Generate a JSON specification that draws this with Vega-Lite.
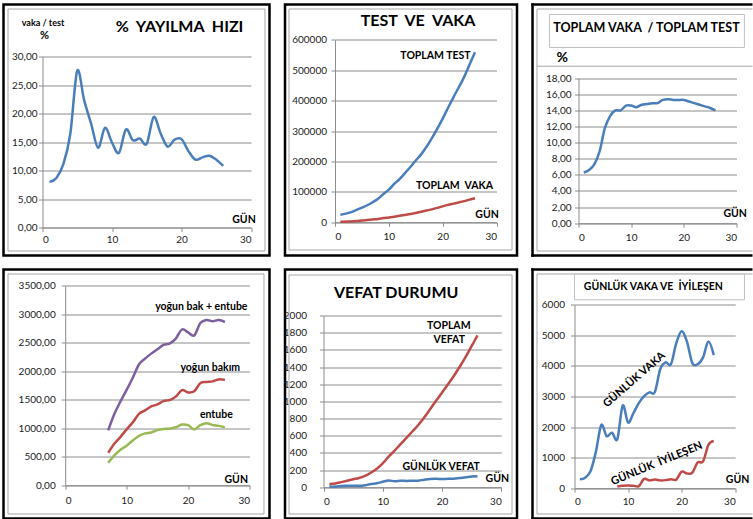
{
"$schema":"https://vega.github.io/schema/vega-lite/v6.json",
"background":"white",
"padding":{"left":1.5,"top":1.5,"right":0,"bottom":0},
"columns":3,
"align":"each",
"spacing":{"row":8,"column":10.5},
"resolve":{"scale":{"color":"independent"}},
"datasets":{
"yay":[{"day":1,"v":8.0},{"day":2,"v":8.7},{"day":3,"v":11.1},{"day":4,"v":16.4},{"day":5,"v":27.5},{"day":6,"v":22.3},{"day":7,"v":18.2},{"day":8,"v":14.0},{"day":9,"v":17.5},{"day":10,"v":14.9},{"day":11,"v":13.1},{"day":12,"v":17.2},{"day":13,"v":15.3},{"day":14,"v":15.6},{"day":15,"v":14.7},{"day":16,"v":19.4},{"day":17,"v":16.5},{"day":18,"v":14.2},{"day":19,"v":15.4},{"day":20,"v":15.5},{"day":21,"v":13.4},{"day":22,"v":11.9},{"day":23,"v":12.3},{"day":24,"v":12.6},{"day":25,"v":11.9},{"day":26,"v":10.8}],
"tv":[{"day":1,"s":"test","v":24300},{"day":2,"s":"test","v":28250},{"day":3,"s":"test","v":33290},{"day":4,"s":"test","v":40570},{"day":5,"s":"test","v":48100},{"day":6,"s":"test","v":55740},{"day":7,"s":"test","v":65720},{"day":8,"s":"test","v":77260},{"day":9,"s":"test","v":92680},{"day":10,"s":"test","v":107070},{"day":11,"s":"test","v":125830},{"day":12,"s":"test","v":141990},{"day":13,"s":"test","v":161650},{"day":14,"s":"test","v":181720},{"day":15,"s":"test","v":203120},{"day":16,"s":"test","v":223140},{"day":17,"s":"test","v":248040},{"day":18,"s":"test","v":276620},{"day":19,"s":"test","v":307480},{"day":20,"s":"test","v":340650},{"day":21,"s":"test","v":376370},{"day":22,"s":"test","v":410830},{"day":23,"s":"test","v":443900},{"day":24,"s":"test","v":478000},{"day":25,"s":"test","v":518400},{"day":26,"s":"test","v":559400},
{"day":1,"s":"vaka","v":1529},{"day":2,"s":"vaka","v":1872},{"day":3,"s":"vaka","v":2433},{"day":4,"s":"vaka","v":3629},{"day":5,"s":"vaka","v":5698},{"day":6,"s":"vaka","v":7402},{"day":7,"s":"vaka","v":9217},{"day":8,"s":"vaka","v":10827},{"day":9,"s":"vaka","v":13531},{"day":10,"s":"vaka","v":15679},{"day":11,"s":"vaka","v":18135},{"day":12,"s":"vaka","v":20921},{"day":13,"s":"vaka","v":23934},{"day":14,"s":"vaka","v":27069},{"day":15,"s":"vaka","v":30217},{"day":16,"s":"vaka","v":34109},{"day":17,"s":"vaka","v":38226},{"day":18,"s":"vaka","v":42282},{"day":19,"s":"vaka","v":47029},{"day":20,"s":"vaka","v":52167},{"day":21,"s":"vaka","v":56956},{"day":22,"s":"vaka","v":61049},{"day":23,"s":"vaka","v":65111},{"day":24,"s":"vaka","v":69392},{"day":25,"s":"vaka","v":74193},{"day":26,"s":"vaka","v":78546}],
"ratio":[{"day":1,"v":6.3},{"day":2,"v":6.6},{"day":3,"v":7.3},{"day":4,"v":8.9},{"day":5,"v":11.8},{"day":6,"v":13.3},{"day":7,"v":14.0},{"day":8,"v":14.0},{"day":9,"v":14.6},{"day":10,"v":14.6},{"day":11,"v":14.4},{"day":12,"v":14.7},{"day":13,"v":14.8},{"day":14,"v":14.9},{"day":15,"v":14.9},{"day":16,"v":15.3},{"day":17,"v":15.4},{"day":18,"v":15.3},{"day":19,"v":15.3},{"day":20,"v":15.3},{"day":21,"v":15.1},{"day":22,"v":14.9},{"day":23,"v":14.7},{"day":24,"v":14.5},{"day":25,"v":14.3},{"day":26,"v":14.0}],
"icu":[{"day":7,"s":"sum","v":962},{"day":8,"s":"sum","v":1248},{"day":9,"s":"sum","v":1469},{"day":10,"s":"sum","v":1671},{"day":11,"s":"sum","v":1884},{"day":12,"s":"sum","v":2116},{"day":13,"s":"sum","v":2219},{"day":14,"s":"sum","v":2306},{"day":15,"s":"sum","v":2381},{"day":16,"s":"sum","v":2459},{"day":17,"s":"sum","v":2483},{"day":18,"s":"sum","v":2569},{"day":19,"s":"sum","v":2729},{"day":20,"s":"sum","v":2678},{"day":21,"s":"sum","v":2623},{"day":22,"s":"sum","v":2841},{"day":23,"s":"sum","v":2896},{"day":24,"s":"sum","v":2874},{"day":25,"s":"sum","v":2894},{"day":26,"s":"sum","v":2860},
{"day":7,"s":"icu","v":568},{"day":8,"s":"icu","v":725},{"day":9,"s":"icu","v":847},{"day":10,"s":"icu","v":979},{"day":11,"s":"icu","v":1101},{"day":12,"s":"icu","v":1251},{"day":13,"s":"icu","v":1311},{"day":14,"s":"icu","v":1381},{"day":15,"s":"icu","v":1415},{"day":16,"s":"icu","v":1474},{"day":17,"s":"icu","v":1492},{"day":18,"s":"icu","v":1552},{"day":19,"s":"icu","v":1667},{"day":20,"s":"icu","v":1626},{"day":21,"s":"icu","v":1645},{"day":22,"s":"icu","v":1789},{"day":23,"s":"icu","v":1809},{"day":24,"s":"icu","v":1820},{"day":25,"s":"icu","v":1854},{"day":26,"s":"icu","v":1846},
{"day":7,"s":"int","v":394},{"day":8,"s":"int","v":523},{"day":9,"s":"int","v":622},{"day":10,"s":"int","v":692},{"day":11,"s":"int","v":783},{"day":12,"s":"int","v":865},{"day":13,"s":"int","v":908},{"day":14,"s":"int","v":925},{"day":15,"s":"int","v":966},{"day":16,"s":"int","v":985},{"day":17,"s":"int","v":991},{"day":18,"s":"int","v":1017},{"day":19,"s":"int","v":1062},{"day":20,"s":"int","v":1052},{"day":21,"s":"int","v":978},{"day":22,"s":"int","v":1052},{"day":23,"s":"int","v":1087},{"day":24,"s":"int","v":1054},{"day":25,"s":"int","v":1040},{"day":26,"s":"int","v":1014}],
"death":[{"day":1,"s":"cum","v":37},{"day":2,"s":"cum","v":44},{"day":3,"s":"cum","v":59},{"day":4,"s":"cum","v":75},{"day":5,"s":"cum","v":92},{"day":6,"s":"cum","v":108},{"day":7,"s":"cum","v":131},{"day":8,"s":"cum","v":168},{"day":9,"s":"cum","v":214},{"day":10,"s":"cum","v":277},{"day":11,"s":"cum","v":356},{"day":12,"s":"cum","v":425},{"day":13,"s":"cum","v":501},{"day":14,"s":"cum","v":574},{"day":15,"s":"cum","v":649},{"day":16,"s":"cum","v":725},{"day":17,"s":"cum","v":812},{"day":18,"s":"cum","v":908},{"day":19,"s":"cum","v":1006},{"day":20,"s":"cum","v":1101},{"day":21,"s":"cum","v":1198},{"day":22,"s":"cum","v":1296},{"day":23,"s":"cum","v":1403},{"day":24,"s":"cum","v":1518},{"day":25,"s":"cum","v":1643},{"day":26,"s":"cum","v":1769},
{"day":1,"s":"daily","v":7},{"day":2,"s":"daily","v":7},{"day":3,"s":"daily","v":15},{"day":4,"s":"daily","v":16},{"day":5,"s":"daily","v":17},{"day":6,"s":"daily","v":16},{"day":7,"s":"daily","v":23},{"day":8,"s":"daily","v":37},{"day":9,"s":"daily","v":46},{"day":10,"s":"daily","v":63},{"day":11,"s":"daily","v":79},{"day":12,"s":"daily","v":69},{"day":13,"s":"daily","v":76},{"day":14,"s":"daily","v":73},{"day":15,"s":"daily","v":75},{"day":16,"s":"daily","v":76},{"day":17,"s":"daily","v":87},{"day":18,"s":"daily","v":96},{"day":19,"s":"daily","v":98},{"day":20,"s":"daily","v":95},{"day":21,"s":"daily","v":97},{"day":22,"s":"daily","v":98},{"day":23,"s":"daily","v":107},{"day":24,"s":"daily","v":115},{"day":25,"s":"daily","v":125},{"day":26,"s":"daily","v":126}],
"daily":[{"day":1,"s":"vaka","v":293},{"day":2,"s":"vaka","v":343},{"day":3,"s":"vaka","v":561},{"day":4,"s":"vaka","v":1196},{"day":5,"s":"vaka","v":2069},{"day":6,"s":"vaka","v":1704},{"day":7,"s":"vaka","v":1815},{"day":8,"s":"vaka","v":1610},{"day":9,"s":"vaka","v":2704},{"day":10,"s":"vaka","v":2148},{"day":11,"s":"vaka","v":2456},{"day":12,"s":"vaka","v":2786},{"day":13,"s":"vaka","v":3013},{"day":14,"s":"vaka","v":3135},{"day":15,"s":"vaka","v":3148},{"day":16,"s":"vaka","v":3892},{"day":17,"s":"vaka","v":4117},{"day":18,"s":"vaka","v":4056},{"day":19,"s":"vaka","v":4747},{"day":20,"s":"vaka","v":5138},{"day":21,"s":"vaka","v":4789},{"day":22,"s":"vaka","v":4093},{"day":23,"s":"vaka","v":4062},{"day":24,"s":"vaka","v":4281},{"day":25,"s":"vaka","v":4801},{"day":26,"s":"vaka","v":4353},
{"day":8,"s":"iyi","v":57},{"day":9,"s":"iyi","v":81},{"day":10,"s":"iyi","v":90},{"day":11,"s":"iyi","v":82},{"day":12,"s":"iyi","v":69},{"day":13,"s":"iyi","v":302},{"day":14,"s":"iyi","v":256},{"day":15,"s":"iyi","v":284},{"day":16,"s":"iyi","v":256},{"day":17,"s":"iyi","v":264},{"day":18,"s":"iyi","v":296},{"day":19,"s":"iyi","v":281},{"day":20,"s":"iyi","v":542},{"day":21,"s":"iyi","v":481},{"day":22,"s":"iyi","v":511},{"day":23,"s":"iyi","v":842},{"day":24,"s":"iyi","v":875},{"day":25,"s":"iyi","v":1415},{"day":26,"s":"iyi","v":1542}]
},
"concat":[
{"width":266,"height":251,"view":{"stroke":"#000","strokeWidth":2.5},"layer":[
{"data":{"values":[{}]},"mark":{"type":"rect","filled":false,"stroke":"#a6a6a6","strokeWidth":1},"encoding":{"x":{"datum":-4.96,"title":null},"x2":{"datum":32.01},"y":{"datum":38.33,"title":null},"y2":{"datum":-4.12}}},
{"data":{"name":"yay"},"mark":{"type":"line","color":"#4a7ebb"},"encoding":{"x":{"field":"day","type":"quantitative","title":null,"scale":{"domain":[0,30],"range":[39,247.5],"nice":false},"axis":{"values":[0,10,20,30],"tickCount":20,"offset":-28,"labelPadding":3}},"y":{"field":"v","type":"quantitative","title":null,"scale":{"domain":[0,30],"range":[223,52],"nice":false},"axis":{"values":[0,5,10,15,20,25,30],"tickCount":20,"offset":-39,"labelPadding":1.5,"labelExpr":"replace(format(datum.value,'.2f'),'.',',')"}}}},
{"data":{"values":[{}]},"mark":{"type":"text","text":"vaka / test","fontSize":9},"encoding":{"x":{"datum":0.07,"title":null},"y":{"datum":35.96,"title":null}}},
{"data":{"values":[{}]},"mark":{"type":"text","text":"%","fontSize":11},"encoding":{"x":{"datum":0.29,"title":null},"y":{"datum":33.51,"title":null}}},
{"data":{"values":[{}]},"mark":{"type":"text","text":"%\u00a0 YAYILMA\u00a0 HIZI","fontSize":16},"encoding":{"x":{"datum":19.71,"title":null},"y":{"datum":35.26,"title":null}}},
{"data":{"values":[{}]},"mark":{"type":"text","text":"GÜN","fontSize":10.5},"encoding":{"x":{"datum":28.99,"title":null},"y":{"datum":1.4,"title":null}}}
]},
{"width":232,"height":251,"view":{"stroke":"#000","strokeWidth":2.5},"layer":[
{"data":{"values":[{}]},"mark":{"type":"rect","filled":false,"stroke":"#a6a6a6","strokeWidth":1},"encoding":{"x":{"datum":-8.55,"title":null},"x2":{"datum":32.88},"y":{"datum":701300,"title":null},"y2":{"datum":-91450}}},
{"data":{"name":"tv"},"mark":{"type":"line"},"encoding":{"x":{"field":"day","type":"quantitative","title":null,"scale":{"domain":[0,30],"range":[50,211.5],"nice":false},"axis":{"values":[0,10,20,30],"tickCount":20,"offset":-33.3,"labelPadding":5.5}},"y":{"field":"v","type":"quantitative","title":null,"scale":{"domain":[0,600000],"range":[217.7,35.3],"nice":false},"axis":{"values":[0,100000,200000,300000,400000,500000,600000],"tickCount":20,"offset":-50,"format":"d","labelPadding":4.5}},"color":{"field":"s","type":"nominal","legend":null,"scale":{"domain":["test","vaka"],"range":["#4a7ebb","#be4b48"]}}}},
{"data":{"values":[{}]},"mark":{"type":"text","text":"TEST\u00a0 VE\u00a0 VAKA","fontSize":16},"encoding":{"x":{"datum":15.42,"title":null},"y":{"datum":661190,"title":null}}},
{"data":{"values":[{}]},"mark":{"type":"text","text":"TOPLAM TEST","fontSize":10.5},"encoding":{"x":{"datum":18.67,"title":null},"y":{"datum":548350,"title":null}}},
{"data":{"values":[{}]},"mark":{"type":"text","text":"TOPLAM\u00a0 VAKA","fontSize":10.5},"encoding":{"x":{"datum":22.2,"title":null},"y":{"datum":118420,"title":null}}},
{"data":{"values":[{}]},"mark":{"type":"text","text":"GÜN","fontSize":10.5},"encoding":{"x":{"datum":28.24,"title":null},"y":{"datum":24340,"title":null}}}
]},
{"width":220,"height":251,"layer":[
{"data":{"values":[{}]},"mark":{"type":"rule","stroke":"#a6a6a6","strokeWidth":1},"encoding":{"x":{"datum":-7.88,"title":null},"x2":{"datum":33.04},"y":{"datum":26.59,"title":null}}},
{"data":{"values":[{}]},"mark":{"type":"rule","stroke":"#a6a6a6","strokeWidth":1},"encoding":{"x":{"datum":-7.88,"title":null},"x2":{"datum":33.04},"y":{"datum":-3.45,"title":null}}},
{"data":{"values":[{}]},"mark":{"type":"rule","stroke":"#a6a6a6","strokeWidth":1},"encoding":{"x":{"datum":-7.88,"title":null},"y":{"datum":26.59,"title":null},"y2":{"datum":-3.45}}},
{"data":{"values":[{}]},"mark":{"type":"rule","stroke":"#a6a6a6","strokeWidth":1},"encoding":{"x":{"datum":-7.88,"title":null},"x2":{"datum":33.04},"y":{"datum":19.49,"title":null}}},
{"data":{"values":[{}]},"mark":{"type":"rect","fill":"white","stroke":"#c0c0c0","strokeWidth":1},"encoding":{"x":{"datum":-5.5,"title":null},"x2":{"datum":31.5},"y":{"datum":25.91,"title":null},"y2":{"datum":21.81}}},
{"data":{"values":[{}]},"mark":{"type":"rule","stroke":"#000","strokeWidth":2.5},"encoding":{"x":{"datum":-8.97,"title":null},"x2":{"datum":33.04},"y":{"datum":27.15,"title":null}}},
{"data":{"values":[{}]},"mark":{"type":"rule","stroke":"#000","strokeWidth":2.5},"encoding":{"x":{"datum":-8.97,"title":null},"x2":{"datum":33.04},"y":{"datum":-4.01,"title":null}}},
{"data":{"values":[{}]},"mark":{"type":"rule","stroke":"#000","strokeWidth":2.5},"encoding":{"x":{"datum":-8.73,"title":null},"y":{"datum":27.3,"title":null},"y2":{"datum":-4.17}}},
{"data":{"name":"ratio"},"mark":{"type":"line","color":"#4a7ebb"},"encoding":{"x":{"field":"day","type":"quantitative","title":null,"scale":{"domain":[0,30],"range":[46,204],"nice":false},"axis":{"values":[0,10,20,30],"tickCount":20,"offset":-32.3,"labelPadding":5}},"y":{"field":"v","type":"quantitative","title":null,"scale":{"domain":[0,18],"range":[218.7,73.7],"nice":false},"axis":{"values":[0,2,4,6,8,10,12,14,16,18],"tickCount":20,"offset":-46,"labelPadding":3.5,"labelExpr":"replace(format(datum.value,'.2f'),'.',',')"}}}},
{"data":{"values":[{}]},"mark":{"type":"text","text":"TOPLAM VAKA\u00a0 / TOPLAM TEST","fontSize":12.5},"encoding":{"x":{"datum":12.91,"title":null},"y":{"datum":24.26,"title":null}}},
{"data":{"values":[{}]},"mark":{"type":"text","text":"%","fontSize":14},"encoding":{"x":{"datum":-3.09,"title":null},"y":{"datum":20.53,"title":null}}},
{"data":{"values":[{}]},"mark":{"type":"text","text":"GÜN","fontSize":10.5},"encoding":{"x":{"datum":29.75,"title":null},"y":{"datum":1.17,"title":null}}}
]},
{"width":266,"height":249,"view":{"stroke":"#000","strokeWidth":2.5},"layer":[
{"data":{"values":[{}]},"mark":{"type":"rect","filled":false,"stroke":"#a6a6a6","strokeWidth":1},"encoding":{"x":{"datum":-9.31,"title":null},"x2":{"datum":32.36},"y":{"datum":3701.5,"title":null},"y2":{"datum":-504.8}}},
{"data":{"name":"icu"},"mark":{"type":"line"},"encoding":{"x":{"field":"day","type":"quantitative","title":null,"scale":{"domain":[0,30],"range":[61.7,246],"nice":false},"axis":{"values":[0,10,20,30],"tickCount":20,"offset":-33.3,"labelPadding":6}},"y":{"field":"v","type":"quantitative","title":null,"scale":{"domain":[0,3500],"range":[215.7,16],"nice":false},"axis":{"values":[0,500,1000,1500,2000,2500,3000,3500],"tickCount":20,"offset":-61.7,"labelPadding":6,"labelExpr":"replace(format(datum.value,'.2f'),'.',',')"}},"color":{"field":"s","type":"nominal","legend":null,"scale":{"domain":["sum","icu","int"],"range":["#7d5fa0","#be4b48","#98b954"]}}}},
{"data":{"values":[{}]},"mark":{"type":"text","text":"yoğun bak + entube","fontSize":10.5},"encoding":{"x":{"datum":22.16,"title":null},"y":{"datum":3119.6,"title":null}}},
{"data":{"values":[{}]},"mark":{"type":"text","text":"yoğun bakım","fontSize":10.5},"encoding":{"x":{"datum":23.62,"title":null},"y":{"datum":2050.5,"title":null}}},
{"data":{"values":[{}]},"mark":{"type":"text","text":"entube","fontSize":10.5},"encoding":{"x":{"datum":24.6,"title":null},"y":{"datum":1233.8,"title":null}}},
{"data":{"values":[{}]},"mark":{"type":"text","text":"GÜN","fontSize":10.5},"encoding":{"x":{"datum":27.84,"title":null},"y":{"datum":94.6,"title":null}}}
]},
{"width":232,"height":249,"view":{"stroke":"#000","strokeWidth":2.5},"layer":[
{"data":{"values":[{}]},"mark":{"type":"rect","filled":false,"stroke":"#a6a6a6","strokeWidth":1},"encoding":{"x":{"datum":-5.82,"title":null},"x2":{"datum":31.83},"y":{"datum":2471.7,"title":null},"y2":{"datum":-312.2}}},
{"data":{"name":"death"},"mark":{"type":"line"},"encoding":{"x":{"field":"day","type":"quantitative","title":null,"scale":{"domain":[0,30],"range":[38.5,216.2],"nice":false},"axis":{"values":[0,10,20,30],"tickCount":20,"offset":-31.3,"labelPadding":5}},"y":{"field":"v","type":"quantitative","title":null,"scale":{"domain":[0,2000],"range":[217.7,46],"nice":false},"axis":{"values":[0,200,400,600,800,1000,1200,1400,1600,1800,2000],"tickCount":20,"offset":-38.5,"format":"d","labelPadding":13}},"color":{"field":"s","type":"nominal","legend":null,"scale":{"domain":["cum","daily"],"range":["#be4b48","#4a7ebb"]}}}},
{"data":{"values":[{}]},"mark":{"type":"text","text":"VEFAT DURUMU","fontSize":16},"encoding":{"x":{"datum":12.27,"title":null},"y":{"datum":2259.7,"title":null}}},
{"data":{"values":[{}]},"mark":{"type":"text","text":"TOPLAM","fontSize":10.5},"encoding":{"x":{"datum":21.14,"title":null},"y":{"datum":1883.5,"title":null}}},
{"data":{"values":[{}]},"mark":{"type":"text","text":"VEFAT","fontSize":10.5},"encoding":{"x":{"datum":21.22,"title":null},"y":{"datum":1717,"title":null}}},
{"data":{"values":[{}]},"mark":{"type":"text","text":"GÜNLÜK VEFAT","fontSize":10.5},"encoding":{"x":{"datum":19.87,"title":null},"y":{"datum":233,"title":null}}},
{"data":{"values":[{}]},"mark":{"type":"text","text":"GÜN","fontSize":10.5},"encoding":{"x":{"datum":29.34,"title":null},"y":{"datum":97.8,"title":null}}}
]},
{"width":220,"height":249,"layer":[
{"data":{"values":[{}]},"mark":{"type":"rule","stroke":"#a6a6a6","strokeWidth":1},"encoding":{"x":{"datum":-7.0,"title":null},"x2":{"datum":33.23},"y":{"datum":7008,"title":null}}},
{"data":{"values":[{}]},"mark":{"type":"rule","stroke":"#a6a6a6","strokeWidth":1},"encoding":{"x":{"datum":-7.0,"title":null},"x2":{"datum":33.23},"y":{"datum":-844,"title":null}}},
{"data":{"values":[{}]},"mark":{"type":"rule","stroke":"#a6a6a6","strokeWidth":1},"encoding":{"x":{"datum":-7.0,"title":null},"y":{"datum":7008,"title":null},"y2":{"datum":-844}}},
{"data":{"values":[{}]},"mark":{"type":"rect","fill":"white","stroke":"#c0c0c0","strokeWidth":1},"encoding":{"x":{"datum":0,"title":null},"x2":{"datum":31.73},"y":{"datum":7002,"title":null},"y2":{"datum":6164}}},
{"data":{"values":[{}]},"mark":{"type":"rule","stroke":"#000","strokeWidth":2.5},"encoding":{"x":{"datum":-8.07,"title":null},"x2":{"datum":33.23},"y":{"datum":7155,"title":null}}},
{"data":{"values":[{}]},"mark":{"type":"rule","stroke":"#000","strokeWidth":2.5},"encoding":{"x":{"datum":-8.07,"title":null},"x2":{"datum":33.23},"y":{"datum":-991,"title":null}}},
{"data":{"values":[{}]},"mark":{"type":"rule","stroke":"#000","strokeWidth":2.5},"encoding":{"x":{"datum":-7.84,"title":null},"y":{"datum":7196,"title":null},"y2":{"datum":-1032}}},
{"data":{"name":"daily"},"mark":{"type":"line"},"encoding":{"x":{"field":"day","type":"quantitative","title":null,"scale":{"domain":[0,30],"range":[42,202.7],"nice":false},"axis":{"values":[0,10,20,30],"tickCount":20,"offset":-30.3,"labelPadding":4}},"y":{"field":"v","type":"quantitative","title":null,"scale":{"domain":[0,6000],"range":[218.7,35.3],"nice":false},"axis":{"values":[0,1000,2000,3000,4000,5000,6000],"tickCount":20,"offset":-42,"format":"d","labelPadding":6}},"color":{"field":"s","type":"nominal","legend":null,"scale":{"domain":["vaka","iyi"],"range":["#4a7ebb","#be4b48"]}}}},
{"data":{"values":[{}]},"mark":{"type":"text","text":"GÜNLÜK VAKA VE\u00a0 İYİLEŞEN","fontSize":10.5},"encoding":{"x":{"datum":14.71,"title":null},"y":{"datum":6598.6,"title":null}}},
{"data":{"values":[{}]},"mark":{"type":"text","text":"GÜNLÜK VAKA","fontSize":11,"angle":319},"encoding":{"x":{"datum":11.2,"title":null},"y":{"datum":3546,"title":null}}},
{"data":{"values":[{}]},"mark":{"type":"text","text":"GÜNLÜK\u00a0 İYİLEŞEN","fontSize":11,"angle":337.6},"encoding":{"x":{"datum":15.36,"title":null},"y":{"datum":798,"title":null}}},
{"data":{"values":[{}]},"mark":{"type":"text","text":"GÜN","fontSize":10.5},"encoding":{"x":{"datum":30.45,"title":null},"y":{"datum":274.8,"title":null}}}
]}
],
"config":{
"view":{"stroke":null},
"axis":{"gridColor":"#8c8c8c","gridWidth":1,"domainColor":"#8c8c8c","tickColor":"#8c8c8c","tickSize":4,"labelFont":"Lato","labelFontSize":10,"labelColor":"#1a1a1a"},
"axisX":{"grid":false},
"axisY":{"grid":true},
"text":{"font":"Lato","fontWeight":"bold","color":"#000","align":"center","baseline":"middle"},
"line":{"strokeWidth":2.5,"interpolate":"cardinal"}
}
}
